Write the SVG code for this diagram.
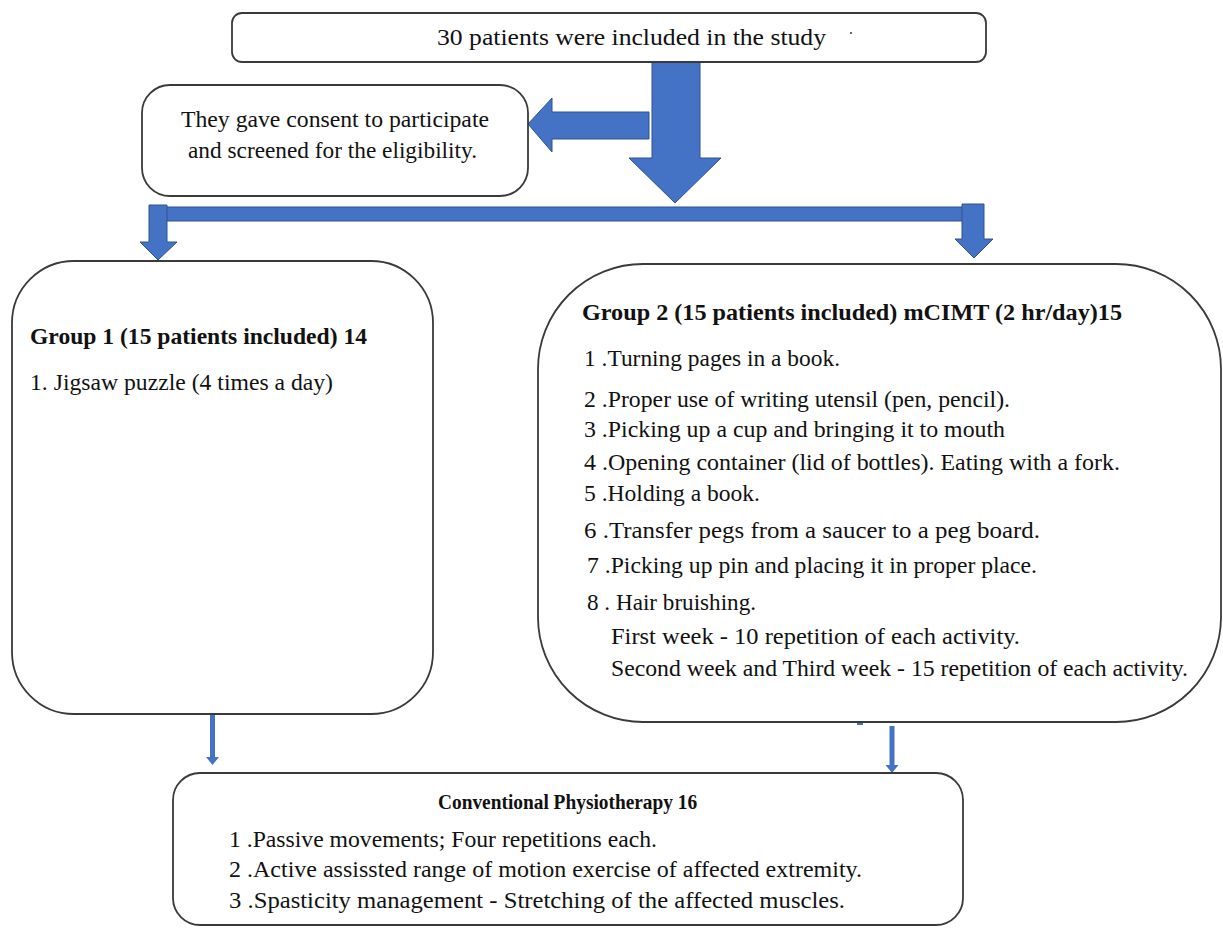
<svg xmlns="http://www.w3.org/2000/svg" width="1223" height="929" viewBox="0 0 1223 929">
<style>
.box{fill:#fff;stroke:#3a3a3a;stroke-width:1.8}
.t{font-family:"Liberation Serif","Times New Roman",Times,serif;fill:#111}
.b{font-weight:bold}
.arr{fill:#4472C4;stroke:#2F528F;stroke-width:1}
.thin{fill:#4472C4;stroke:none}
</style>
<rect width="1223" height="929" fill="#fff"/>
<g id="connectors">
<polygon class="arr" points="652,62 700,62 700,158 721,158 675,203 629,158 652,158"/>
<polygon class="arr" points="649,112 649,139 552,139 552,152 528,124 552,98 552,112"/>
<rect class="arr" x="160" y="207" width="810" height="14"/>
<polygon class="arr" points="149,205 167,205 167,242 177,242 158,260 140,242 149,242"/>
<polygon class="arr" points="962,204 984,204 984,239 993,239 974,258 955,239 962,239"/>
<rect class="thin" x="594" y="60" width="47" height="3"/>
<rect class="thin" x="210" y="714" width="5" height="44"/>
<polygon class="thin" points="206,757 219,757 212.5,765"/>
<rect class="thin" x="889.5" y="726" width="5" height="40"/>
<polygon class="thin" points="885.5,765 898.5,765 892,773"/>
<rect class="thin" x="857" y="723" width="6" height="2"/>
</g>
<g id="n_top">
<rect class="box" x="232" y="13" width="754" height="49" rx="10"/>
<text class="t" x="437" y="45" font-size="24" textLength="389" lengthAdjust="spacingAndGlyphs">30  patients were included in the study</text>
<circle cx="851" cy="33" r="1" fill="#333"/>
</g>
<g id="n_consent">
<rect class="box" x="142" y="85" width="386" height="111" rx="28"/>
<text class="t" x="181" y="127" font-size="23.5" textLength="308" lengthAdjust="spacingAndGlyphs">They gave consent to participate</text>
<text class="t" x="188" y="158" font-size="23.5" textLength="289" lengthAdjust="spacingAndGlyphs">and screened for the eligibility.</text>
</g>
<g id="n_group1">
<rect class="box" x="12" y="261" width="421" height="453" rx="62"/>
<text class="t b" x="30" y="344" font-size="23" textLength="337" lengthAdjust="spacingAndGlyphs">Group 1 (15 patients included) 14</text>
<text class="t" x="30" y="390" font-size="23" textLength="303" lengthAdjust="spacingAndGlyphs">1. Jigsaw puzzle (4 times a day)</text>
</g>
<g id="n_group2">
<rect class="box" x="538" y="264" width="683" height="458" rx="105"/>
<text class="t b" x="582" y="320" font-size="23" textLength="540" lengthAdjust="spacingAndGlyphs">Group 2 (15 patients included) mCIMT (2 hr/day)15</text>
<text class="t" x="584" y="366" font-size="23" textLength="256" lengthAdjust="spacingAndGlyphs">1 .Turning pages in a book.</text>
<text class="t" x="584" y="407" font-size="23" textLength="426" lengthAdjust="spacingAndGlyphs">2 .Proper use of writing utensil (pen, pencil).</text>
<text class="t" x="584" y="437" font-size="23" textLength="421" lengthAdjust="spacingAndGlyphs">3 .Picking up a cup and bringing it to mouth</text>
<text class="t" x="584" y="470" font-size="23" textLength="536" lengthAdjust="spacingAndGlyphs">4 .Opening container (lid of bottles). Eating with a fork.</text>
<text class="t" x="584" y="501" font-size="23" textLength="176" lengthAdjust="spacingAndGlyphs">5 .Holding a book.</text>
<text class="t" x="584" y="538" font-size="23" textLength="456" lengthAdjust="spacingAndGlyphs">6 .Transfer pegs from a saucer to a peg board.</text>
<text class="t" x="587" y="573" font-size="23" textLength="450" lengthAdjust="spacingAndGlyphs">7 .Picking up pin and placing it in proper place.</text>
<text class="t" x="587" y="610" font-size="23" textLength="169" lengthAdjust="spacingAndGlyphs">8 . Hair bruishing.</text>
<text class="t" x="611" y="644" font-size="23" textLength="409" lengthAdjust="spacingAndGlyphs">First week - 10 repetition of each activity.</text>
<text class="t" x="611" y="676" font-size="23" textLength="577" lengthAdjust="spacingAndGlyphs">Second week and Third week - 15 repetition of each activity.</text>
</g>
<g id="n_conventional">
<rect class="box" x="173" y="773" width="790" height="152" rx="27"/>
<text class="t b" transform="translate(438,809) scale(0.88,1)" x="0" y="0" font-size="22">Conventional Physiotherapy 16</text>
<text class="t" x="229" y="847" font-size="23" textLength="428" lengthAdjust="spacingAndGlyphs">1 .Passive movements; Four repetitions each.</text>
<text class="t" x="229" y="877" font-size="23" textLength="633" lengthAdjust="spacingAndGlyphs">2 .Active assissted range of motion exercise of affected extremity.</text>
<text class="t" x="229" y="908" font-size="23" textLength="616" lengthAdjust="spacingAndGlyphs">3 .Spasticity management - Stretching of the affected muscles.</text>
</g>
</svg>
